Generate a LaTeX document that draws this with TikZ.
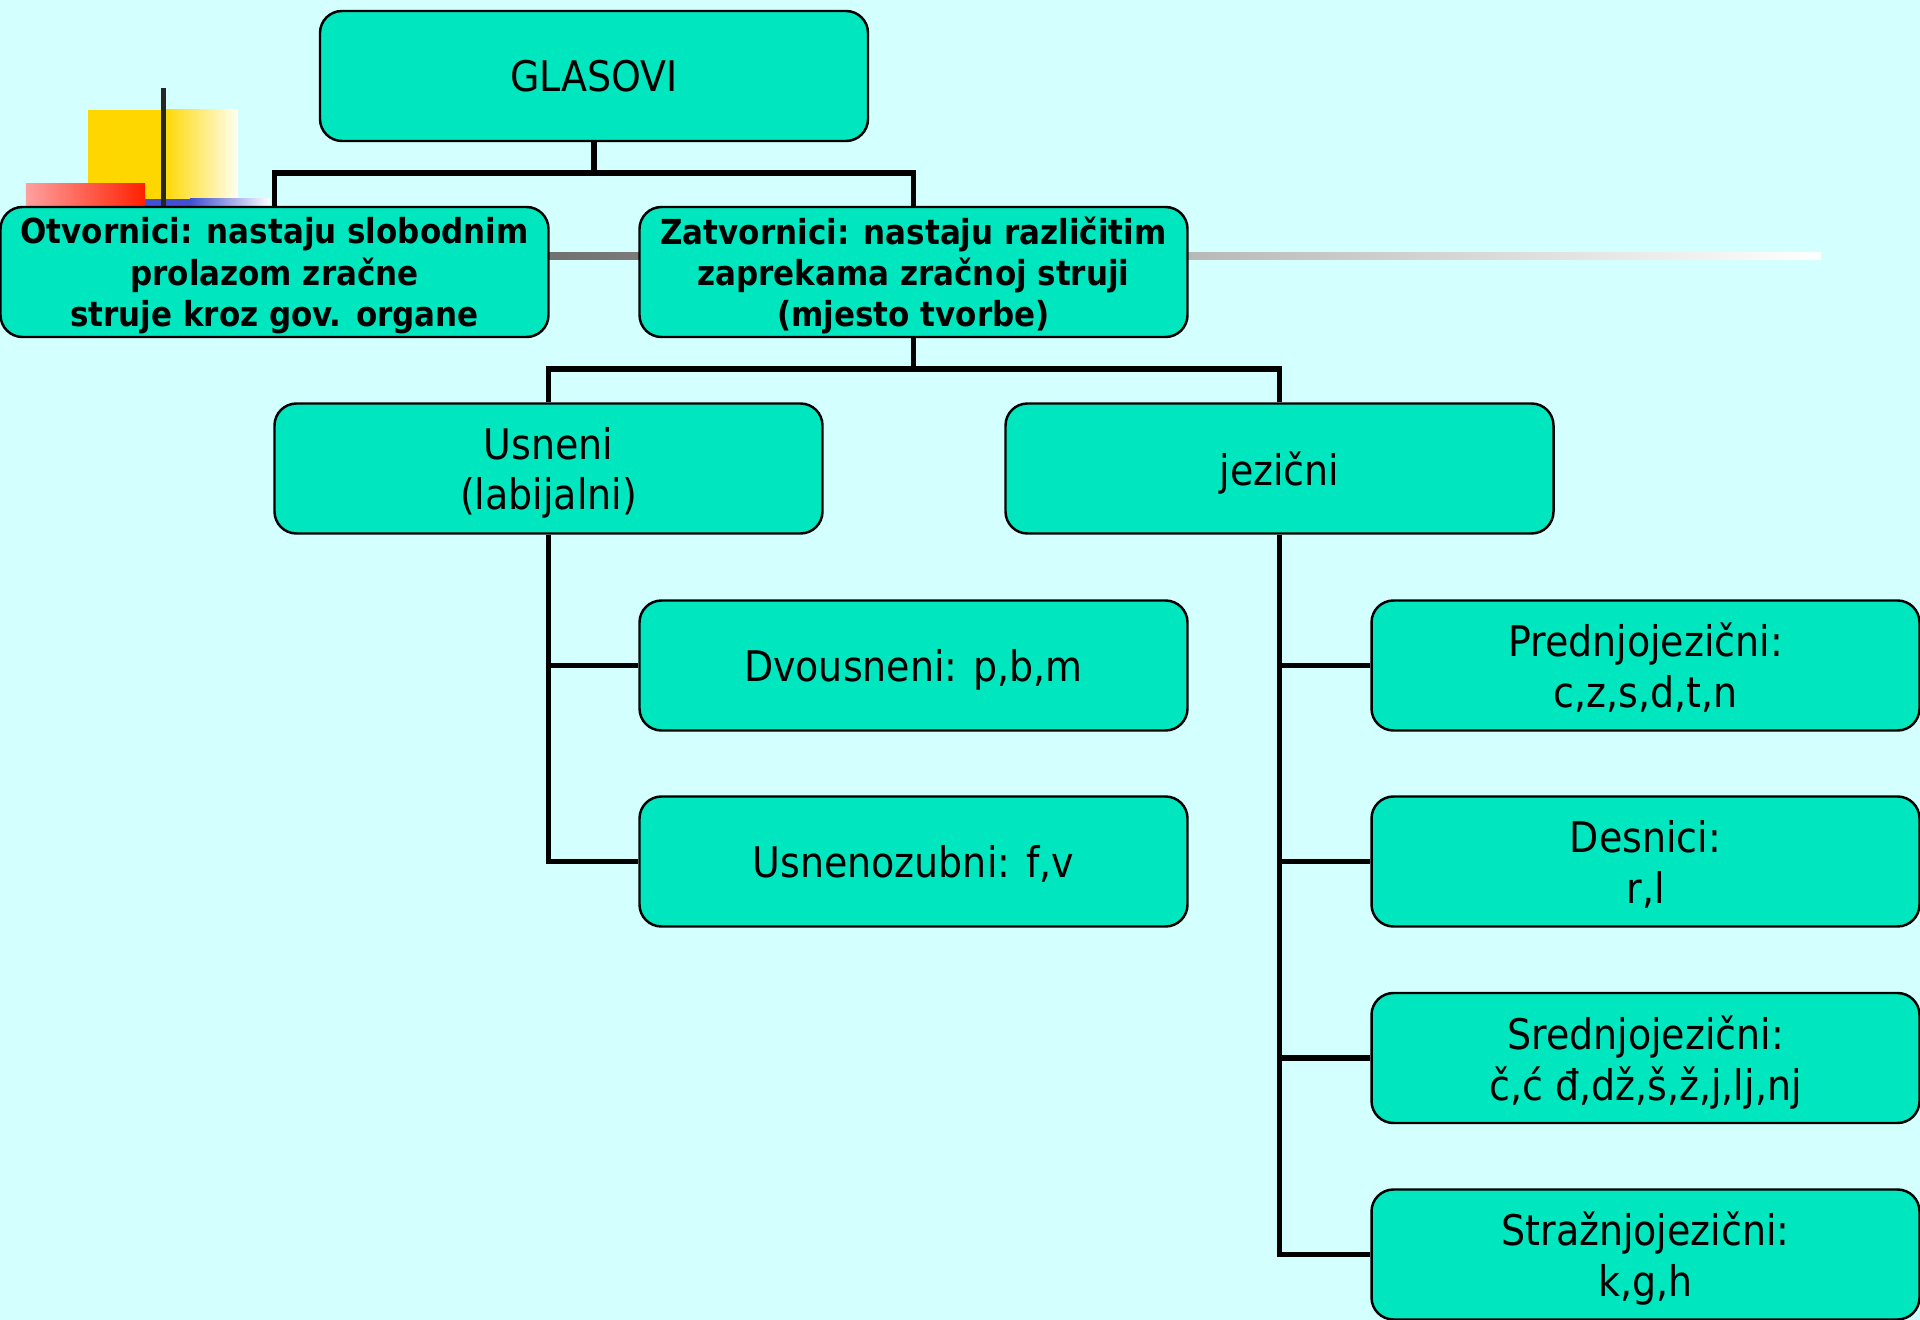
\documentclass[tikz,border=0pt]{standalone}
\usepackage{fontspec}
\setmainfont{DejaVu Sans Condensed}
\usetikzlibrary{shapes,arrows,positioning,calc}
\definecolor{bgcyan}{RGB}{212,255,255}
\definecolor{boxgreen}{RGB}{0,230,190}
\definecolor{decoyellow}{RGB}{255,215,0}
\definecolor{decored}{RGB}{255,32,0}
\definecolor{decopink}{RGB}{255,160,160}
\definecolor{decoblue}{RGB}{64,80,208}

\begin{document}
\begin{tikzpicture}[
        box/.style={draw, line width=0.7pt, fill=boxgreen, rounded corners=0.22cm,
            minimum width=5.48cm, minimum height=1.3cm, align=center, text depth=0pt,
            font=\fontsize{12}{14.5}\selectfont},
        boldbox/.style={box, inner ysep=0.5pt, font=\fontsize{9.8}{11.7}\selectfont\bfseries},
        link/.style={line width=1.5pt}
    ]
        % background and page size
        \fill[bgcyan] (0,0) rectangle (19.2,-13.2);
        \useasboundingbox (0,0) rectangle (19.2,-13.2);

        % grey rule behind the second row
        \shade[left color=black!80, right color=white] (0,-2.53) rectangle (18.21,-2.6);

        % corner decoration
        \fill[decoyellow] (0.88,-1.1) rectangle (1.63,-1.99);
        \shade[left color=decoyellow, right color=yellow!5] (1.63,-1.1) rectangle (2.38,-1.99);
        \shade[left color=decopink, right color=decored] (0.26,-1.84) rectangle (1.45,-2.07);
        \fill[decoblue] (1.45,-1.99) rectangle (1.9,-2.07);
        \shade[left color=decoblue, right color=white] (1.9,-1.99) rectangle (2.7,-2.07);
        \draw[line width=0.05cm, black!85] (1.63,-0.88) -- (1.63,-2.07);

        % GLASOVI (top)
        \node[box] (glas) at (5.94,-0.76) {GLASOVI};

        % second row
        \node[boldbox] (otv) at (2.745,-2.72) {Otvornici: nastaju slobodnim\\prolazom zračne\\struje kroz gov. organe};
        \node[boldbox] (zat) at (9.135,-2.72) {Zatvornici: nastaju različitim\\zaprekama zračnoj struji\\(mjesto tvorbe)};

        % third row
        \node[box] (usn) at (5.485,-4.685) {Usneni\\(labijalni)};
        \node[box] (jez) at (12.795,-4.685) {jezični};

        % usneni children
        \node[box] (dvo) at (9.135,-6.655) {Dvousneni: p,b,m};
        \node[box] (usz) at (9.135,-8.615) {Usnenozubni: f,v};

        % jezicni children
        \node[box] (pred) at (16.455,-6.655) {Prednjojezični:\\c,z,s,d,t,n};
        \node[box] (des) at (16.455,-8.615) {Desnici:\\r,l};
        \node[box] (sred) at (16.455,-10.58) {Srednjojezični:\\č,ć đ,dž,š,ž,j,lj,nj};
        \node[box] (stra) at (16.455,-12.545) {Stražnjojezični:\\k,g,h};

        % connectors
        \coordinate (bus1) at (5.94,-1.73);
        \coordinate (bus2) at (9.135,-3.69);
        \draw[link] (glas.south) -- (bus1);
        \draw[link] (otv.north) |- (bus1) -| (zat.north);
        \draw[link] (zat.south) -- (bus2);
        \draw[link] (usn.north) |- (bus2) -| (jez.north);

        \draw[link] (usn.south) |- (usz.west);
        \draw[link] (usn.south |- dvo.west) -- (dvo.west);

        \draw[link] (jez.south) |- (stra.west);
        \foreach \leaf in {pred,des,sred}
            \draw[link] (jez.south |- \leaf.west) -- (\leaf.west);

    \end{tikzpicture}
\end{document}
